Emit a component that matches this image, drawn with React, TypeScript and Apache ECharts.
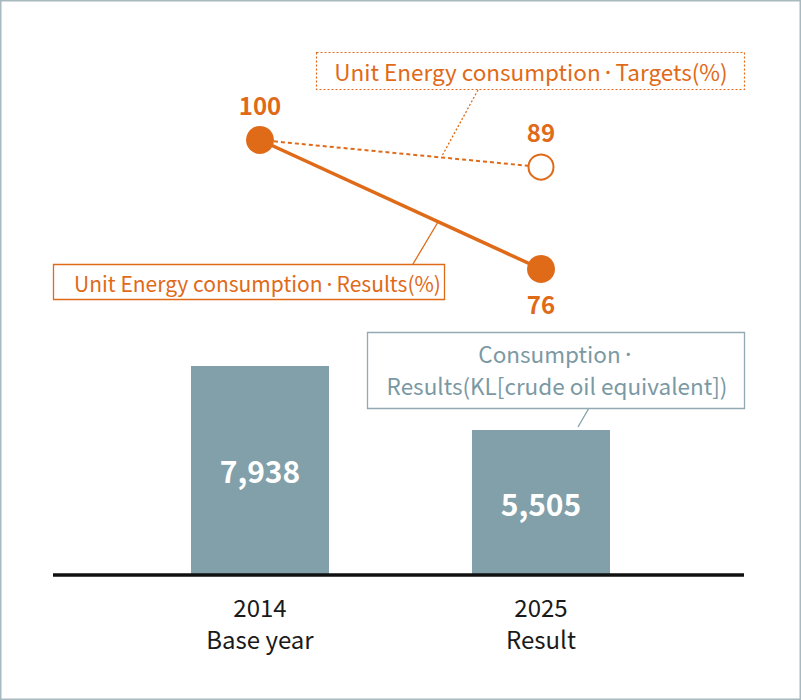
import { useEffect, useRef } from "react";
import * as echarts from "echarts";

const categories = ["2014\nBase year", "2025\nResult"];
const consumption = [7938, 5505];
const unitResults = [100, 76];
const unitTargets = [100, 89];

const ORANGE = "#df6a18";
const BAR = "#82a0a9";
const FONT = "'Noto Sans CJK JP', 'Noto Sans', sans-serif";

// the middle dot is drawn smaller so it sits tight like in the original
const dotRich = (color: string, size: number) => ({
  d: { fontSize: size, fill: color, fontFamily: FONT },
});

export default function App() {
  const chartRef = useRef<HTMLDivElement>(null);

  useEffect(() => {
    if (!chartRef.current) return;
    const chart = echarts.init(chartRef.current, null, { renderer: "svg" });

    const option: echarts.EChartsOption = {
      animation: false,
      textStyle: { fontFamily: FONT },
      grid: { left: 119.5, right: 119.5, top: 60, bottom: 125 },
      xAxis: {
        type: "category",
        data: categories,
        axisLine: { show: false },
        axisTick: { show: false },
        axisLabel: {
          color: "#1a1a1a",
          fontSize: 24,
          lineHeight: 32,
          margin: 15,
          fontFamily: FONT,
        },
      },
      yAxis: [
        { type: "value", min: 0, max: 19560, show: false },
        { type: "value", min: 19.07, max: 114.88, show: false },
        { type: "value", min: -77.2, max: 132.6, show: false },
      ],
      graphic: [
        // outer frame
        {
          type: "rect",
          shape: { x: 0.75, y: 0.75, width: 799.5, height: 698.5 },
          style: { fill: "none", stroke: "#a9b9c0", lineWidth: 1.5 },
          silent: true,
        },
        // baseline
        {
          type: "line",
          shape: { x1: 53, y1: 575, x2: 744, y2: 575 },
          style: { stroke: "#111", lineWidth: 3.5 },
          z: 10,
        },
        // targets annotation
        {
          type: "line",
          shape: { x1: 478, y1: 90, x2: 442, y2: 156 },
          style: { stroke: ORANGE, lineWidth: 1.3, lineDash: [2, 2] },
        },
        {
          type: "rect",
          shape: { x: 316.5, y: 52.5, width: 428, height: 37 },
          style: { fill: "#fff", stroke: ORANGE, lineWidth: 1.2, lineDash: [2, 2] },
        },
        {
          type: "text",
          x: 531,
          y: 71,
          style: {
            text: "Unit Energy consumption{d|・}Targets(%)",
            fill: ORANGE,
            font: `22.5px ${FONT}`,
            align: "center",
            verticalAlign: "middle",
            rich: dotRich(ORANGE, 15),
          },
        },
        // results annotation
        {
          type: "line",
          shape: { x1: 413, y1: 264, x2: 438, y2: 222 },
          style: { stroke: ORANGE, lineWidth: 1.3 },
        },
        {
          type: "rect",
          shape: { x: 53.5, y: 264.5, width: 391, height: 35 },
          style: { fill: "#fff", stroke: ORANGE, lineWidth: 1.3 },
        },
        {
          type: "text",
          x: 257.5,
          y: 283,
          style: {
            text: "Unit Energy consumption{d|・}Results(%)",
            fill: ORANGE,
            font: `21px ${FONT}`,
            align: "center",
            verticalAlign: "middle",
            rich: dotRich(ORANGE, 14),
          },
        },
        // consumption annotation
        {
          type: "line",
          shape: { x1: 589, y1: 408, x2: 578, y2: 427 },
          style: { stroke: BAR, lineWidth: 1.3 },
        },
        {
          type: "rect",
          shape: { x: 367.5, y: 332.5, width: 377, height: 76 },
          style: { fill: "#fff", stroke: "#93aab2", lineWidth: 1.3 },
        },
        {
          type: "text",
          x: 557,
          y: 369,
          style: {
            text: "Consumption{d|・}\nResults(KL[crude oil equivalent])",
            fill: "#7b99a3",
            font: `22.5px ${FONT}`,
            lineHeight: 32,
            align: "center",
            verticalAlign: "middle",
            rich: dotRich("#7b99a3", 15),
          },
        },
      ],
      series: [
        {
          type: "bar",
          yAxisIndex: 0,
          data: consumption,
          barWidth: 138,
          itemStyle: { color: BAR },
          label: {
            show: true,
            position: "inside",
            color: "#fff",
            fontSize: 30,
            fontWeight: "bold",
            fontFamily: FONT,
            formatter: (p: any) => Number(p.value).toLocaleString("en-US"),
          },
          z: 1,
        },
        {
          type: "line",
          yAxisIndex: 2,
          data: [
            { value: unitTargets[0], symbol: "none", label: { show: false } },
            unitTargets[1],
          ],
          symbol: "circle",
          symbolSize: 25,
          lineStyle: { color: ORANGE, width: 2, type: [4, 3] },
          itemStyle: { color: "#fff", borderColor: ORANGE, borderWidth: 2 },
          label: {
            show: true,
            position: "top",
            distance: 10,
            color: ORANGE,
            fontSize: 24,
            fontWeight: "bold",
            fontFamily: FONT,
          },
          z: 3,
        },
        {
          type: "line",
          yAxisIndex: 1,
          data: unitResults.map((v, i) => ({
            value: v,
            label: { position: i === 0 ? "top" : "bottom" },
          })),
          symbol: "circle",
          symbolSize: 28,
          lineStyle: { color: ORANGE, width: 3.5 },
          itemStyle: { color: ORANGE },
          label: {
            show: true,
            distance: 9,
            color: ORANGE,
            fontSize: 24,
            fontWeight: "bold",
            fontFamily: FONT,
          },
          z: 4,
        },
      ],
    };

    chart.setOption(option);
    return () => chart.dispose();
  }, []);

  return (
    <div
      ref={chartRef}
      style={{ position: "absolute", left: 0, top: 0, width: 801, height: 700 }}
    />
  );
}
